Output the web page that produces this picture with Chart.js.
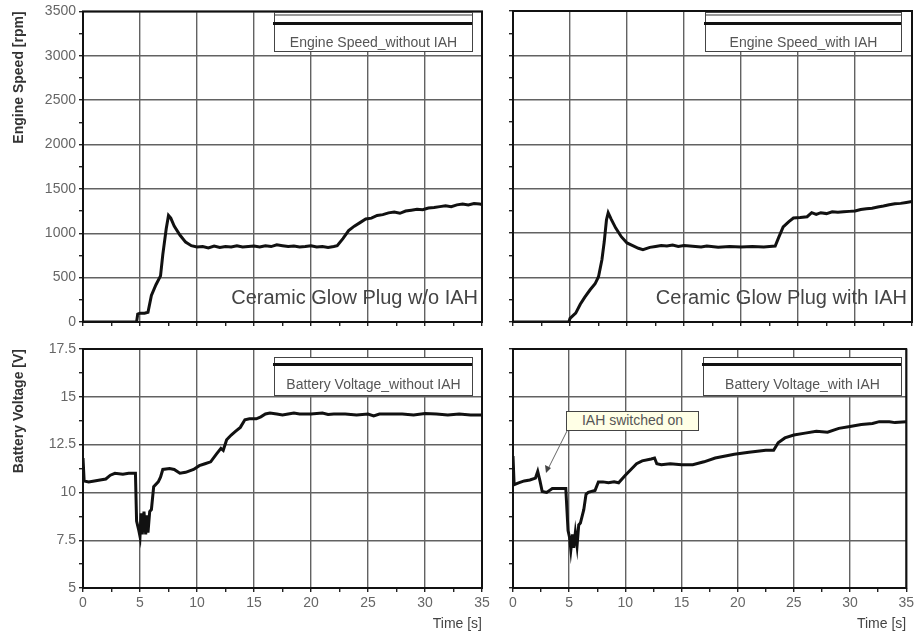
<!DOCTYPE html>
<html>
<head>
<meta charset="utf-8">
<script src="https://cdn.jsdelivr.net/npm/chart.js@4.4.1/dist/chart.umd.min.js"></script>
<style>
    body { margin: 0; background: #fff; font-family: "Liberation Sans", Arial, sans-serif; }
    #wrap { position: relative; width: 917px; height: 633px; overflow: hidden; }
    canvas { position: absolute; left: 0; top: 0; }
    .legend { position: absolute; background: #fff; border: 1px solid #444; box-sizing: border-box; }
    .legend .sample { position: absolute; left: -2px; right: 0; height: 3px; background: #111; }
    .legend .stripe { position: absolute; left: 0; right: 0; top: 1px; height: 2px; background: #999; }
    .legend .label { position: absolute; left: 0; right: 0; text-align: center; white-space: nowrap;
        font-size: 14px; line-height: 16px; color: #555; }
    .big { position: absolute; font-size: 20px; line-height: 24px; color: #444; white-space: nowrap; text-align: right; }
    .note { position: absolute; background: #ffffe6; border: 1px solid #444; box-sizing: border-box;
        font-size: 14px; line-height: 17px; color: #555; text-align: center; white-space: nowrap; }
    svg { position: absolute; left: 0; top: 0; }
</style>
</head>
<body>
<div id="wrap">
    <canvas id="speedNoIah" width="917" height="633"></canvas>
    <canvas id="speedIah" width="917" height="633"></canvas>
    <canvas id="voltNoIah" width="917" height="633"></canvas>
    <canvas id="voltIah" width="917" height="633"></canvas>

    <div class="legend" style="left:274px;top:12px;width:199px;height:40px">
        <div class="stripe"></div>
        <div class="sample" style="top:9px"></div>
        <div class="label" style="top:21px">Engine Speed_without IAH</div>
    </div>
    <div class="legend" style="left:705px;top:12px;width:197px;height:40px">
        <div class="stripe"></div>
        <div class="sample" style="top:9px"></div>
        <div class="label" style="top:21px">Engine Speed_with IAH</div>
    </div>
    <div class="legend" style="left:274px;top:357px;width:199px;height:39px">
        <div class="sample" style="top:5px"></div>
        <div class="label" style="top:18px">Battery Voltage_without IAH</div>
    </div>
    <div class="legend" style="left:703px;top:357px;width:199px;height:39px">
        <div class="sample" style="top:5px"></div>
        <div class="label" style="top:18px">Battery Voltage_with IAH</div>
    </div>

    <div class="big" style="right:439px;top:285px">Ceramic Glow Plug w/o IAH</div>
    <div class="big" style="right:10px;top:285px">Ceramic Glow Plug with IAH</div>

    <svg width="917" height="633">
        <line x1="567" y1="431" x2="548" y2="469" stroke="#666" stroke-width="1"/>
        <polygon points="546,473 545,465 551,468" fill="#444"/>
    </svg>
    <div class="note" style="left:566px;top:411px;width:133px;height:20px">IAH switched on</div>
</div>

<script>
// time axis [s]
const timeTicks = [0, 5, 10, 15, 20, 25, 30, 35];

// engine speed without IAH [rpm]
const tSpeedNoIah = [0, 4.7, 4.8, 5.0, 5.4, 5.7, 6.0, 6.4, 6.8, 7.0, 7.3, 7.5, 7.7, 8.0, 8.5, 9.0, 9.5,
    10, 10.5, 11, 11.5, 12, 12.5, 13, 13.5, 14, 14.5, 15, 15.5, 16, 16.5, 17, 17.5, 18, 18.5, 19, 19.5,
    20, 20.5, 21, 21.5, 22, 22.3, 22.8, 23.3, 23.8, 24.3, 24.8, 25.3, 25.8, 26.3, 26.8, 27.3, 27.8, 28.3,
    28.8, 29.3, 29.8, 30.3, 30.8, 31.3, 31.8, 32.3, 32.8, 33.3, 33.8, 34.3, 34.8, 35];
const speedNoIah = [0, 0, 90, 100, 100, 110, 300, 420, 520, 760, 1050, 1200, 1170, 1080, 980, 900, 860,
    845, 850, 835, 855, 840, 850, 845, 860, 845, 850, 855, 845, 860, 850, 870, 860, 850, 855, 845, 850,
    860, 845, 850, 840, 850, 860, 940, 1030, 1080, 1120, 1160, 1170, 1200, 1210, 1230, 1240, 1225, 1250,
    1260, 1270, 1265, 1285, 1290, 1300, 1310, 1300, 1320, 1330, 1320, 1335, 1330, 1325];

// engine speed with IAH [rpm]
const tSpeedIah = [0, 4.9, 5.0, 5.5, 5.9, 6.3, 6.75, 7.2, 7.5, 7.8, 8.0, 8.2, 8.35, 8.6, 9.0, 9.5, 10,
    10.5, 11, 11.4, 12, 12.5, 13, 13.5, 14, 14.5, 15, 16, 16.5, 17, 18, 19, 20, 21, 22, 22.5, 23.0, 23.3,
    23.7, 24.2, 24.6, 25.2, 25.8, 26.2, 26.6, 27, 27.5, 28, 28.5, 29, 29.5, 30, 30.5, 31, 31.5, 32, 32.5,
    33, 33.5, 34, 34.5, 35];
const speedIah = [0, 0, 40, 100, 200, 280, 360, 430, 510, 700, 900, 1150, 1230, 1160, 1060, 960, 890,
    860, 830, 815, 840, 850, 860, 855, 865, 850, 860, 850, 845, 855, 840, 850, 845, 850, 845, 850, 855, 950,
    1070, 1130, 1170, 1175, 1185, 1230, 1210, 1230, 1220, 1240, 1235, 1240, 1245, 1250, 1265, 1275, 1280,
    1295, 1305, 1320, 1330, 1335, 1345, 1355];

// battery voltage without IAH [V]
const tVoltNoIah = [0, 0.1, 0.5, 1, 1.5, 2, 2.4, 2.8, 3.5, 4, 4.6, 4.7, 4.9, 5.0, 5.1, 5.2, 5.35, 5.5,
    5.6, 5.7, 5.85, 6.0, 6.2, 6.6, 6.8, 7.0, 7.6, 8.0, 8.5, 9.0, 9.7, 10.2, 10.7, 11.2, 11.7, 12.1, 12.3,
    12.6, 13.0, 13.4, 13.8, 14.2, 14.6, 15.2, 15.6, 16.0, 16.4, 17, 17.5, 18, 18.5, 19, 20, 21, 21.5, 22,
    23, 24, 25, 25.5, 26, 27, 28, 29, 30, 31, 32, 33, 34, 35];
const voltNoIah = [11.8, 10.6, 10.55, 10.6, 10.65, 10.7, 10.9, 11.0, 10.95, 11.0, 11.0, 8.5, 8.0, 7.7,
    8.9, 7.8, 9.0, 7.8, 8.8, 7.9, 9.0, 9.1, 10.3, 10.55, 10.8, 11.2, 11.25, 11.2, 11.0, 11.05, 11.2, 11.4,
    11.5, 11.6, 12.0, 12.3, 12.2, 12.75, 13.0, 13.2, 13.4, 13.8, 13.85, 13.85, 13.95, 14.1, 14.15, 14.1,
    14.05, 14.1, 14.15, 14.1, 14.1, 14.15, 14.08, 14.1, 14.1, 14.05, 14.1, 14.0, 14.1, 14.1, 14.1, 14.05,
    14.12, 14.1, 14.05, 14.1, 14.05, 14.05];

// battery voltage with IAH [V]
const tVoltIah = [0, 0.1, 0.5, 1, 1.5, 2.0, 2.2, 2.4, 2.6, 3.0, 3.5, 4.0, 4.7, 4.9, 5.05, 5.15, 5.3,
    5.4, 5.55, 5.7, 5.85, 6.0, 6.3, 6.5, 6.7, 7.3, 7.6, 8.0, 8.5, 9.0, 9.4, 10.0, 10.5, 11.0, 11.5, 12.3,
    12.6, 12.8, 13.2, 14, 15, 16, 17, 18, 19.7, 21, 22.5, 23.2, 23.6, 24.2, 25, 26, 27, 28, 29, 30, 31,
    32, 32.6, 33.5, 34, 35];
const voltIah = [11.9, 10.4, 10.5, 10.6, 10.65, 10.75, 11.1, 10.6, 10.05, 10.0, 10.2, 10.2, 10.2, 8.0,
    7.6, 7.0, 7.8, 7.1, 7.9, 7.2, 8.3, 8.4, 9.1, 9.9, 10.0, 10.1, 10.55, 10.55, 10.5, 10.55, 10.5, 10.9,
    11.2, 11.5, 11.65, 11.75, 11.8, 11.5, 11.45, 11.5, 11.45, 11.45, 11.6, 11.8, 12.0, 12.1, 12.2, 12.2,
    12.6, 12.85, 13.0, 13.1, 13.2, 13.15, 13.35, 13.45, 13.55, 13.6, 13.7, 13.7, 13.65, 13.7];

Chart.defaults.font.family = '"Liberation Sans", Arial, sans-serif';
Chart.defaults.font.size = 14;
Chart.defaults.color = '#555';

const frame = {
    id: 'frame',
    beforeDatasetsDraw(chart) {
        const a = chart.chartArea;
        const ctx = chart.ctx;
        ctx.save();
        ctx.strokeStyle = '#111';
        ctx.lineWidth = 2;
        ctx.strokeRect(a.left, a.top, a.right - a.left, a.bottom - a.top);
        ctx.restore();
    }
};

function points(ts, vs) {
    return ts.map((t, i) => ({ x: t, y: vs[i] }));
}

function makePanel(id, ts, vs, opt) {
    const yMajor = opt.yMajor;
    new Chart(document.getElementById(id), {
        type: 'line',
        data: {
            datasets: [{
                data: points(ts, vs),
                borderColor: '#111',
                borderWidth: 3,
                pointRadius: 0,
                tension: 0
            }]
        },
        options: {
            responsive: false,
            animation: false,
            devicePixelRatio: 1,
            layout: { padding: opt.padding },
            plugins: { legend: { display: false }, tooltip: { enabled: false } },
            scales: {
                x: {
                    type: 'linear',
                    min: 0,
                    max: 35,
                    afterFit: s => { s.height = opt.xHeight; },
                    afterBuildTicks: s => { s.ticks = []; for (let v = 0; v <= 35; v += 2.5) s.ticks.push({ value: v }); },
                    border: { display: false },
                    grid: {
                        color: c => (c.tick && timeTicks.includes(c.tick.value)) ? '#626262' : 'rgba(0,0,0,0)',
                        lineWidth: 1.4,
                        tickColor: '#222',
                        tickLength: 4
                    },
                    ticks: {
                        display: opt.xLabels,
                        autoSkip: false,
                        maxRotation: 0,
                        padding: 3,
                        color: '#666',
                        callback: v => timeTicks.includes(v) ? String(v) : ''
                    },
                    title: {
                        display: opt.xLabels,
                        text: 'Time [s]',
                        align: 'end',
                        color: '#444',
                        padding: { top: 0, bottom: 0 }
                    }
                },
                y: {
                    min: opt.yMin,
                    max: opt.yMax,
                    afterFit: s => { s.width = opt.yWidth; },
                    afterBuildTicks: s => { s.ticks = []; for (let v = opt.yMin; v <= opt.yMax + 1e-9; v += opt.yMinor) s.ticks.push({ value: v }); },
                    border: { display: false },
                    grid: {
                        color: c => (c.tick && yMajor.includes(c.tick.value)) ? '#626262' : 'rgba(0,0,0,0)',
                        lineWidth: 1.4,
                        tickColor: '#222',
                        tickLength: 4
                    },
                    ticks: {
                        display: opt.yLabels,
                        autoSkip: false,
                        padding: 3,
                        color: '#666',
                        callback: v => yMajor.includes(v) ? String(v) : ''
                    },
                    title: {
                        display: !!opt.yTitle,
                        text: opt.yTitle || '',
                        align: 'end',
                        color: '#333',
                        font: { weight: 'bold', size: 14 },
                        padding: { top: 11, bottom: 0 }
                    }
                }
            }
        },
        plugins: [frame]
    });
}

const speedTicks = [0, 500, 1000, 1500, 2000, 2500, 3000, 3500];
const voltTicks = [5, 7.5, 10, 12.5, 15, 17.5];

const speedAxis = { yMin: 0, yMax: 3500, yMinor: 250, yMajor: speedTicks, xHeight: 6, xLabels: false };
const voltAxis = { yMin: 5, yMax: 17.5, yMinor: 1.25, yMajor: voltTicks, xHeight: 45, xLabels: true };

makePanel('speedNoIah', tSpeedNoIah, speedNoIah, Object.assign({}, speedAxis, {
    padding: { left: 0, top: 11, right: 435, bottom: 305 }, yWidth: 83, yLabels: true, yTitle: 'Engine Speed [rpm]'
}));
makePanel('speedIah', tSpeedIah, speedIah, Object.assign({}, speedAxis, {
    padding: { left: 503, top: 11, right: 5, bottom: 305 }, yWidth: 10, yLabels: false
}));
makePanel('voltNoIah', tVoltNoIah, voltNoIah, Object.assign({}, voltAxis, {
    padding: { left: 0, top: 349, right: 435, bottom: 0 }, yWidth: 83, yLabels: true, yTitle: 'Battery Voltage [V]'
}));
makePanel('voltIah', tVoltIah, voltIah, Object.assign({}, voltAxis, {
    padding: { left: 503, top: 349, right: 5, bottom: 0 }, yWidth: 10, yLabels: false
}));
</script>
</body>
</html>
